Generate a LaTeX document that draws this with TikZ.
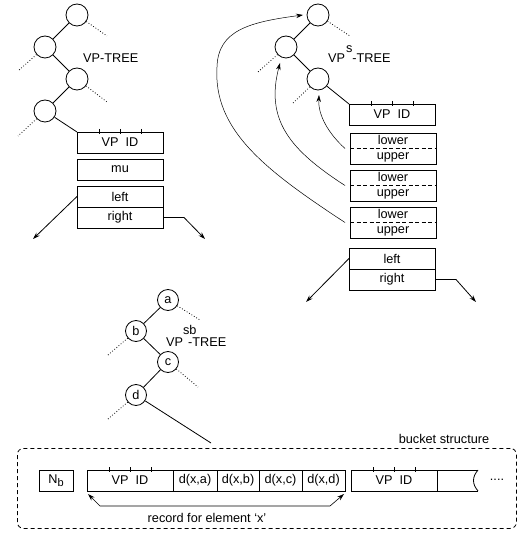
\documentclass[tikz,border=0pt]{standalone}
\usepackage{fontspec}
\setmainfont{Liberation Sans}
\usetikzlibrary{arrows.meta,calc}
\begin{document}
\begin{tikzpicture}[x=1pt,y=-1pt,
  every node/.style={font=\fontsize{12.7pt}{15pt}\selectfont, inner sep=0pt},
  line/.style={line width=0.8pt},
  vtx/.style={circle,draw,line width=0.8pt,minimum size=22pt,inner sep=0pt},
  svtx/.style={circle,draw,line width=0.8pt,minimum size=21pt,inner sep=0pt},
  stub/.style={dotted,line width=0.8pt},
  cell/.style={draw,line width=0.8pt,minimum height=21pt,anchor=north west,inner sep=0pt,outer sep=0pt},
  lubox/.style={draw,line width=0.8pt,minimum width=86pt,minimum height=31pt,anchor=north west,align=center,outer sep=0pt},
  tip/.style={-{Stealth[length=7pt,width=4.5pt]}},
  curv/.style={line width=0.5pt,tip},
]
\useasboundingbox (0,0) rectangle (519,534);

% ---------- VP-TREE ----------
\node[vtx] (t1a) at (77,15) {};
\node[vtx] (t1b) at (45,47) {};
\node[vtx] (t1c) at (77,79) {};
\node[vtx] (t1d) at (45,111) {};
\coordinate (t1as) at (107,36);
\coordinate (t1bs) at (18,71);
\coordinate (t1cs) at (107,102);
\coordinate (t1ds) at (18,136);
\draw[line] (t1a) -- (t1b);
\draw[line] (t1b) -- (t1c);
\draw[line] (t1c) -- (t1d);
\draw[stub] (t1a) -- (t1as);
\draw[stub] (t1b) -- (t1bs);
\draw[stub] (t1c) -- (t1cs);
\draw[stub] (t1d) -- (t1ds);
\node[anchor=base west] (lab1) at (83,62.5) {VP-TREE};

\node[cell,minimum width=86pt] (vp1) at (77,132) {VP\ \ ID\hspace{6pt}};
\foreach \d in {22,43,64} \draw[line] ($(vp1.north west)+(\d,-3)$) -- ++(0,5);
\node[cell,minimum width=86pt] (mu1) at (77,159) {mu};
\node[cell,minimum width=86pt] (left1) at (77,186) {left};
\node[cell,minimum width=86pt] (right1) at (left1.south west) {right};
\draw[line] (t1d) -- (vp1.north west);
\coordinate (l1end) at (33,239);
\coordinate (r1end) at (205,239);
\draw[line,tip] (left1.west) -- (l1end);
\draw[line,tip] (right1.east) -- ++(21,0) -- (r1end);

% ---------- VP^s-TREE ----------
\node[vtx] (t2a) at (318,15) {};
\node[vtx] (t2b) at (286,47) {};
\node[vtx] (t2c) at (318,79) {};
\coordinate (t2as) at (350,36);
\coordinate (t2bs) at (258,72);
\coordinate (t2cs) at (292,104);
\draw[line] (t2a) -- (t2b);
\draw[line] (t2b) -- (t2c);
\draw[stub] (t2a) -- (t2as);
\draw[stub] (t2b) -- (t2bs);
\draw[stub] (t2c) -- (t2cs);
\node[anchor=base west] (lab2) at (328,62.5) {VP\hspace{1pt}\raisebox{10pt}{s}-TREE};

\node[cell,minimum width=86pt] (vp2) at (349,104) {VP\ \ ID\hspace{6pt}};
\foreach \d in {22,43,64} \draw[line] ($(vp2.north west)+(\d,-3)$) -- ++(0,5);
\draw[line] (t2c) -- (vp2.north west);
\node[lubox] (lu1) at (350,133) {lower\\upper};
\node[lubox] (lu2) at (350,170) {lower\\upper};
\node[lubox] (lu3) at (350,207) {lower\\upper};
\foreach \b in {lu1,lu2,lu3} \draw[line,dash pattern=on 4pt off 2.5pt] (\b.west) -- (\b.east);
\node[cell,minimum width=86pt] (left2) at (349,248) {left};
\node[cell,minimum width=86pt] (right2) at (left2.south west) {right};
\coordinate (l2end) at (306,302);
\coordinate (r2end) at (476,302);
\draw[line,tip] (left2.west) -- (l2end);
\draw[line,tip] (right2.east) -- ++(21,0) -- (r2end);

\coordinate (a1end) at (319,95);
\coordinate (a2end) at (280,63);
\coordinate (a3end) at (303,15);
\draw[curv] ([xshift=-5pt]lu1.west) .. controls (328,133) and (318,115) .. (a1end);
\draw[curv] ([xshift=-5pt]lu2.west) .. controls (290,150) and (265,120) .. (a2end);
\draw[curv] ([xshift=-5pt]lu3.west) .. controls (265,170) and (213,130) .. (217,67) .. controls (218,30) and (250,22) .. (a3end);

% ---------- VP^sb-TREE ----------
\node[svtx] (t3a) at (168,300) {a};
\node[svtx] (t3b) at (136,331) {b};
\node[svtx] (t3c) at (168,362) {c};
\node[svtx] (t3d) at (136,395) {d};
\coordinate (t3as) at (200,320);
\coordinate (t3bs) at (108,355);
\coordinate (t3cs) at (198,387);
\coordinate (t3ds) at (108,419);
\coordinate (dend) at (211,443);
\draw[line] (t3a) -- (t3b);
\draw[line] (t3b) -- (t3c);
\draw[line] (t3c) -- (t3d);
\draw[line] (t3d) -- (dend);
\draw[stub] (t3a) -- (t3as);
\draw[stub] (t3b) -- (t3bs);
\draw[stub] (t3c) -- (t3cs);
\draw[stub] (t3d) -- (t3ds);
\node[anchor=base west] (lab3) at (166,346.5) {VP\rlap{\raisebox{12pt}{sb}}\hspace{5pt}-TREE};

% ---------- bucket structure ----------
\node[draw,line width=0.8pt,dash pattern=on 4pt off 3pt,rounded corners=6pt,minimum width=499pt,minimum height=80pt,anchor=north west] (bucket) at (17,448) {};
\node (blab) at (444,439) {bucket structure};

\node[cell,minimum width=34pt] (nb) at (39,470) {N\raisebox{-3pt}{\fontsize{11pt}{11pt}\selectfont b}};
\node[cell,minimum width=86pt] (vpr) at (87,470) {VP\ \ ID\hspace{6pt}};
\node[cell,minimum width=44pt] (da) at (vpr.north east) {d(x,a)};
\node[cell,minimum width=42pt] (db) at (da.north east) {d(x,b)};
\node[cell,minimum width=43pt] (dc) at (db.north east) {d(x,c)};
\node[cell,minimum width=43pt] (dd) at (dc.north east) {d(x,d)};
\node[cell,minimum width=86pt] (nx) at (351,470) {VP\ \ ID\hspace{6pt}};
\foreach \d in {22,43,64} \draw[line] ($(vpr.north west)+(\d,-3)$) -- ++(0,5);
\foreach \d in {22,43,64} \draw[line] ($(nx.north west)+(\d,-3)$) -- ++(0,5);
\draw[line] (nx.north east) -- ++(41,0) coordinate (wt);
\draw[line] (nx.south east) -- ++(41,0) coordinate (wb);
\draw[line] (wt) .. controls +(-6,7) and +(-6,-7) .. (wb);
\node (dots) at (497,480) {....};

\coordinate (rs) at ([shift={(1,3)}]vpr.south west);
\coordinate (re) at ([shift={(-1,3)}]dd.south east);
\draw[line width=0.6pt,{Stealth[length=7pt,width=4.5pt]}-{Stealth[length=7pt,width=4.5pt]}] (rs) -- (100,506) -- (330,506) -- (re);
\node (reclab) at (207,518) {record for element `x'};
\end{tikzpicture}
\end{document}
